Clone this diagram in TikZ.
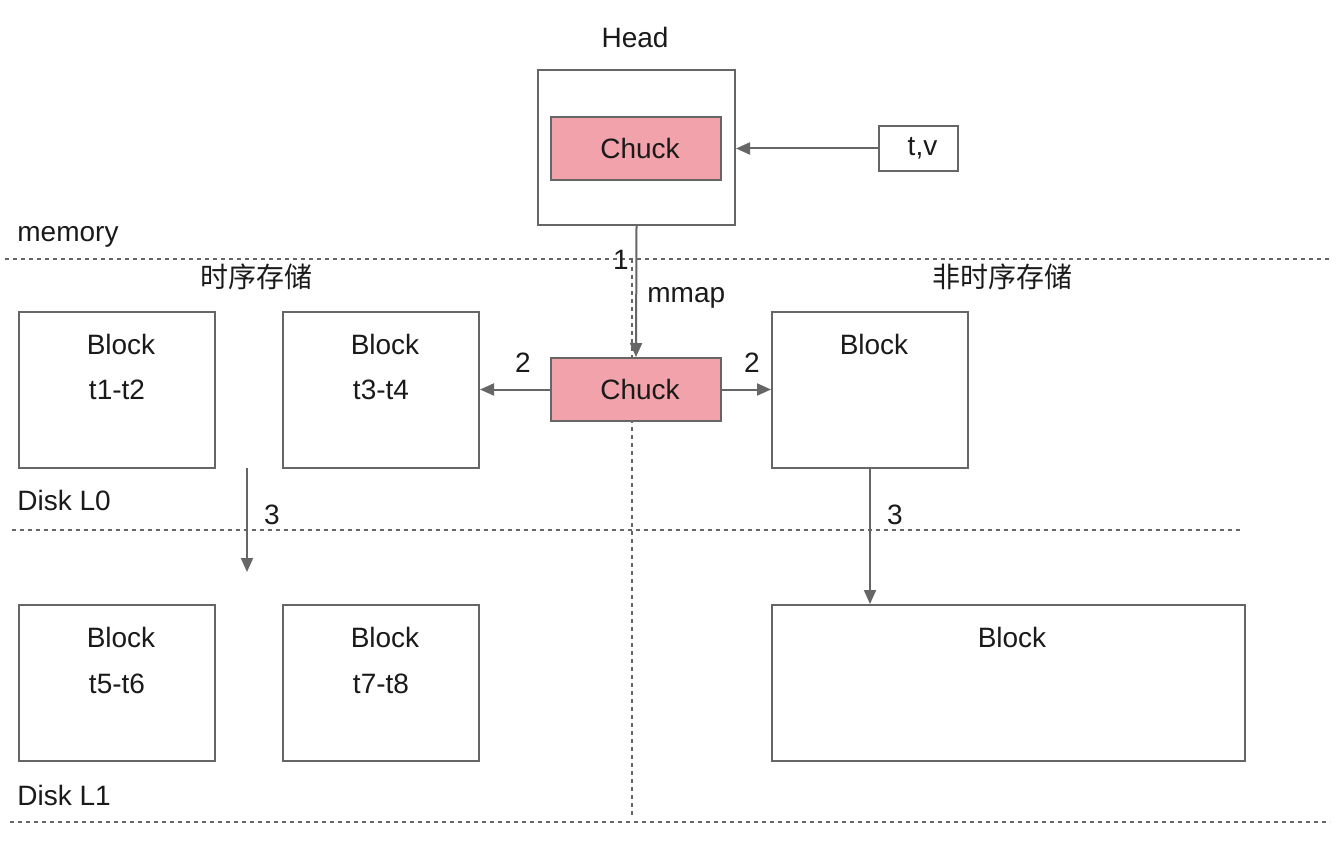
\documentclass[tikz,border=0pt]{standalone}
\usepackage{fontspec}
\setmainfont{Liberation Sans}
\newfontfamily\cjk{Noto Sans CJK SC}
\usetikzlibrary{arrows.meta}
\definecolor{edge}{HTML}{666666}
\definecolor{pinkfill}{HTML}{F1A2AA}
\definecolor{ink}{HTML}{1A1A1A}
\tikzset{
  box/.style={draw=edge, line width=1pt, fill=white, inner sep=0pt},
  chuckbox/.style={draw=edge, line width=1pt, fill=pinkfill, minimum width=85pt, minimum height=31.5pt, inner sep=0pt, font=\fontsize{14}{16}\selectfont, text=ink},
  txt/.style={font=\fontsize{14}{16}\selectfont, text=ink, inner sep=0pt},
  cjktxt/.style={font=\cjk\fontsize{14}{16}\selectfont, text=ink, inner sep=0pt},
  conn/.style={draw=edge, line width=1pt, -{Triangle[length=7pt,width=6pt]}},
  sep/.style={draw=edge, line width=1pt, dash pattern=on 2pt off 2pt},
}
\begin{document}
\begin{tikzpicture}[x=0.5pt,y=-0.5pt]
\useasboundingbox[fill=white] (0,0) rectangle (1338,850);
% separators
\draw[sep] (5,259) -- (1330,259);
\draw[sep] (12,530) -- (1243,530);
\draw[sep] (10,822) -- (1330,822);
\coordinate (vtop) at (632,259);
\coordinate (vbot) at (632,815);
\draw[sep] (vtop) -- (vbot);
% labels
\node[txt] (headlbl) at (635,37) {Head};
\node[txt, anchor=base west] (mem) at (17,242) {memory};
\node[txt, anchor=west] (l0) at (17,500) {Disk L0};
\node[txt, anchor=west] (l1) at (17,795) {Disk L1};
\node[cjktxt] (ts) at (256,277) {时序存储};
\node[cjktxt] (nts) at (1002,277) {非时序存储};
% head
\node[box, minimum width=98.5pt, minimum height=77.5pt] (head) at (636.5,147.5) {};
\node[chuckbox] (chuck1) at (636,148.5) {\hspace{4pt}Chuck};
\node[box, minimum width=39.5pt, minimum height=22.5pt, txt] (tv) at (918.5,148.5) {\hspace{4pt}t,v};
% middle chuck
\node[chuckbox] (chuck2) at (636,389.5) {\hspace{4pt}Chuck};
% blocks row 1
\node[box, minimum width=98pt, minimum height=78pt] (ba) at (117,390) {};
\node[box, minimum width=98pt, minimum height=78pt] (bb) at (381,390) {};
\node[box, minimum width=98pt, minimum height=78pt] (bc) at (870,390) {};
% blocks row 2
\node[box, minimum width=98pt, minimum height=78pt] (bd) at (117,683) {};
\node[box, minimum width=98pt, minimum height=78pt] (be) at (381,683) {};
\node[box, minimum width=236.5pt, minimum height=78pt] (bf) at (1008.5,683) {};
% block texts
\node[txt] (bat) at (121,344) {Block};
\node[txt] (bas) at (117,390) {t1-t2};
\node[txt] (bbt) at (385,344) {Block};
\node[txt] (bbs) at (381,390) {t3-t4};
\node[txt] (bct) at (874,344) {Block};
\node[txt] (bdt) at (121,637) {Block};
\node[txt] (bds) at (117,684) {t5-t6};
\node[txt] (bet) at (385,637) {Block};
\node[txt] (bes) at (381,684) {t7-t8};
\node[txt] (bft) at (1012,637) {Block};
% connectors
\draw[conn] (tv.west) -- (tv.west -| head.east);
\draw[conn] (head.south) -- (chuck2.north);
\node[txt] (n1) at (621,260) {1};
\node[txt, anchor=west] (mmap) at (647,298) {mmap};
\draw[conn] (chuck2.west) -- (chuck2.west -| bb.east);
\node[txt] (n2a) at (523,363) {2};
\draw[conn] (chuck2.east) -- (chuck2.east -| bc.west);
\node[txt] (n2b) at (752,363) {2};
\coordinate (a3s) at (247,468);
\coordinate (a3e) at (247,572);
\draw[conn] (a3s) -- (a3e);
\node[txt] (n3a) at (272,515) {3};
\draw[conn] (bc.south) -- (bc.south |- bf.north);
\node[txt] (n3b) at (895,515) {3};
\end{tikzpicture}
\end{document}
